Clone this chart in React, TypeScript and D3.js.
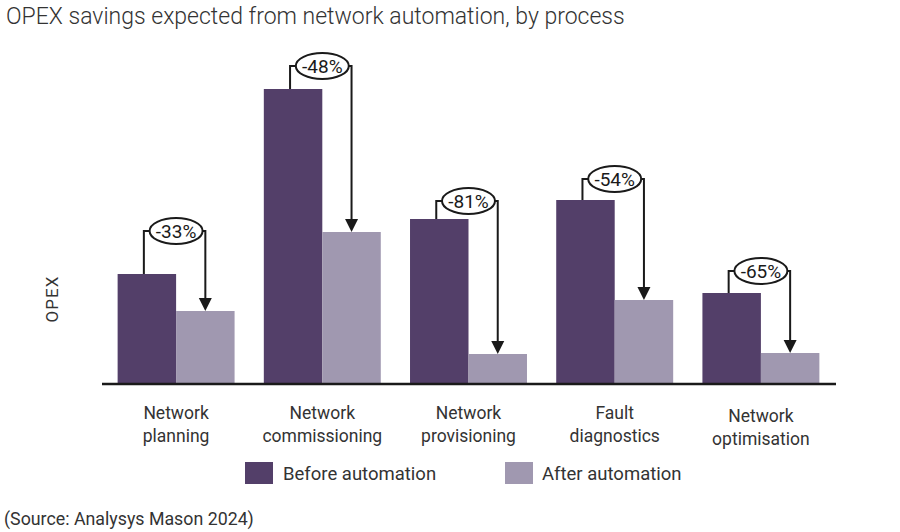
import React from "react";
import * as d3 from "d3";

const categories = [
  ["Network", "planning"],
  ["Network", "commissioning"],
  ["Network", "provisioning"],
  ["Fault", "diagnostics"],
  ["Network", "optimisation"],
];
const before = [110, 295, 165, 184, 91];
const after = [73, 152, 30, 84, 31];
const savings = ["-33%", "-48%", "-81%", "-54%", "-65%"];
// level of the bracket holding each savings label, same units as the bars
const bracketLevel = [153, 318, 183, 205, 113];

const width = 900;
const height = 532;
const FONT = "Roboto, 'DejaVu Sans', sans-serif";
const BEFORE_COLOR = "#533f69";
const AFTER_COLOR = "#a098b0";
const INK = "#1a1a1a";
const TEXT = "#333";

export default function App() {
  const x = d3
    .scaleBand<number>()
    .domain(d3.range(categories.length))
    .range([103, 834])
    .paddingInner(0.2)
    .paddingOuter(0.1);
  const y = d3.scaleLinear().domain([0, 333]).range([384, 51]);
  const bw = x.bandwidth() / 2;

  return (
    <svg
      width={width}
      height={height}
      style={{ position: "absolute", left: 0, top: 0, background: "#fff" }}
      fontFamily={FONT}
    >
      <text x={6} y={24} fontSize={23} fill={TEXT} fontWeight={300}>
        OPEX savings expected from network automation, by process
      </text>

      <text
        transform={`translate(58,299) rotate(-90)`}
        textAnchor="middle"
        fontSize={17}
        letterSpacing={1}
        fill={TEXT}
      >
        OPEX
      </text>

      {before.map((v, i) => (
        <rect
          key={"b" + i}
          x={x(i)!}
          y={y(v)}
          width={bw}
          height={y(0) - y(v)}
          fill={BEFORE_COLOR}
        />
      ))}
      {after.map((v, i) => (
        <rect
          key={"a" + i}
          x={x(i)! + bw}
          y={y(v)}
          width={bw}
          height={y(0) - y(v)}
          fill={AFTER_COLOR}
        />
      ))}

      <line x1={102} x2={836} y1={384} y2={384} stroke={INK} strokeWidth={2.5} />

      {savings.map((s, i) => {
        const xl = x(i)! + bw / 2 - 3;
        const xr = x(i)! + bw * 1.5;
        const cx = x(i)! + bw;
        const yb = y(bracketLevel[i]);
        const yTop = y(before[i]);
        const yTip = y(after[i]);
        return (
          <g key={"s" + i}>
            <path
              d={`M${xl},${yTop}V${yb}H${xr}V${yTip - 12}`}
              fill="none"
              stroke={INK}
              strokeWidth={2}
            />
            <path
              d={`M${xr - 6.5},${yTip - 13}L${xr + 6.5},${yTip - 13}L${xr},${yTip}Z`}
              fill={INK}
            />
            <ellipse
              cx={cx}
              cy={yb}
              rx={26.5}
              ry={13}
              fill="#fff"
              stroke={INK}
              strokeWidth={2}
            />
            <text
              x={cx}
              y={yb + 6.5}
              textAnchor="middle"
              fontSize={19}
              fill={INK}
            >
              {s}
            </text>
          </g>
        );
      })}

      {categories.map((c, i) => {
        const cx = x(i)! + bw;
        const dy = i === 4 ? 3 : 0;
        return (
          <text
            key={"c" + i}
            x={cx}
            textAnchor="middle"
            fontSize={17.5}
            fill={TEXT}
          >
            <tspan x={cx} y={419 + dy}>
              {c[0]}
            </tspan>
            <tspan x={cx} y={442 + dy}>
              {c[1]}
            </tspan>
          </text>
        );
      })}

      <rect x={245} y={462} width={28} height={22} fill={BEFORE_COLOR} />
      <text x={283} y={480} fontSize={18.5} fill={TEXT}>
        Before automation
      </text>
      <rect x={505} y={462} width={28} height={22} fill={AFTER_COLOR} />
      <text x={542} y={480} fontSize={18.5} fill={TEXT}>
        After automation
      </text>

      <text x={4} y={525} fontSize={17.8} fill={TEXT}>
        (Source: Analysys Mason 2024)
      </text>
    </svg>
  );
}
